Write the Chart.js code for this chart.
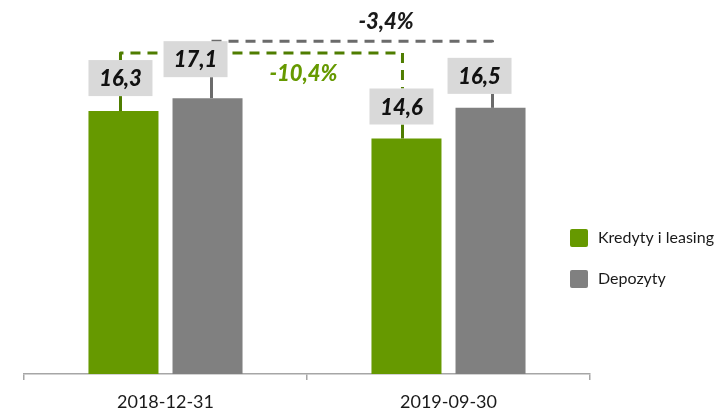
<!DOCTYPE html>
<html>
<head>
<meta charset="utf-8">
<script src="https://cdn.jsdelivr.net/npm/chart.js@4.4.1/dist/chart.umd.min.js"></script>
<style>
  html, body { margin: 0; padding: 0; background: #fff; }
  #wrap { width: 721px; height: 411px; position: relative; }
</style>
</head>
<body>
<div id="wrap"><canvas id="depositChart"></canvas></div>
<script>
// Data
const categories = ['2018-12-31', '2019-09-30'];
const seriesNames = ['Kredyty i leasing', 'Depozyty'];
const kredytyValues = [16.3, 14.6];
const depozytyValues = [17.1, 16.5];
const changeLabels = ['-10,4%', '-3,4%']; // change per series, first date -> second date

const seriesColors = ['#669900', '#808080'];
const connectorColors = ['#4f7d00', '#6b6b6b'];
const changeTextColors = ['#669900', '#1a1a1a'];
const FONT = 'Lato, "Open Sans", sans-serif';

// Label box offsets from bar centre / bar top: [series][category] = [dx, gapAboveBar, stemDx]
const boxOffsets = [
  [[-3, 15, -3], [-5, 14, -4]],
  [[-12, 21, 4], [-11, 14, 2]]
];

function fmt(v) {
  return v.toFixed(1).replace('.', ',');
}

const annotations = {
  id: 'annotations',
  afterDatasetsDraw(chart) {
    const ctx = chart.ctx;
    const boxes = [[], []];
    const BW = 64, BH = 36;

    // work out where every label box goes
    chart.data.datasets.forEach((ds, si) => {
      const meta = chart.getDatasetMeta(si);
      meta.data.forEach((bar, ci) => {
        const off = boxOffsets[si][ci];
        const bottom = bar.y - off[1];
        boxes[si].push({
          cx: bar.x + off[0],
          top: bottom - BH,
          bottom: bottom,
          stemX: bar.x + off[2],
          barTop: bar.y,
          value: ds.data[ci]
        });
      });
    });

    // dashed connectors between the two dates (drawn under the boxes)
    const lineYs = [
      Math.min(boxes[0][0].top, boxes[0][1].top) - 7,
      boxes[1][0].top
    ];
    const endYs = [boxes[0][1].top, boxes[1][1].top - 12];
    const labelShift = [[42, 21], [34, -19]];

    [0, 1].forEach(si => {
      const a = boxes[si][0], b = boxes[si][1];
      const y = lineYs[si];
      ctx.save();
      ctx.strokeStyle = connectorColors[si];
      ctx.lineWidth = 3;
      ctx.setLineDash([10, 7]);
      ctx.lineJoin = 'round';
      ctx.beginPath();
      ctx.moveTo(a.stemX, a.top);
      ctx.lineTo(a.stemX, y);
      ctx.lineTo(b.stemX, y);
      ctx.lineTo(b.stemX, endYs[si]);
      ctx.stroke();
      ctx.restore();

      ctx.save();
      ctx.fillStyle = changeTextColors[si];
      ctx.font = 'italic 900 22px ' + FONT;
      ctx.textAlign = 'center';
      ctx.textBaseline = 'middle';
      ctx.fillText(changeLabels[si], (a.stemX + b.stemX) / 2 + labelShift[si][0], y + labelShift[si][1]);
      ctx.restore();
    });

    // stems, boxes and values
    boxes.forEach((list, si) => {
      list.forEach(bx => {
        ctx.save();
        ctx.strokeStyle = connectorColors[si];
        ctx.lineWidth = 3;
        ctx.beginPath();
        ctx.moveTo(bx.stemX, bx.barTop);
        ctx.lineTo(bx.stemX, bx.bottom);
        ctx.stroke();

        ctx.fillStyle = '#d9d9d9';
        ctx.fillRect(bx.cx - BW / 2, bx.top, BW, BH);
        ctx.fillStyle = '#111';
        ctx.font = 'italic 900 22px ' + FONT;
        ctx.textAlign = 'center';
        ctx.textBaseline = 'middle';
        ctx.fillText(fmt(bx.value), bx.cx, bx.top + BH / 2 + 1);
        ctx.restore();
      });
    });

    // legend on the right
    const lx = chart.chartArea.right + 30;
    const lys = [238, 279];
    seriesNames.forEach((name, si) => {
      ctx.save();
      ctx.fillStyle = seriesColors[si];
      ctx.beginPath();
      ctx.roundRect(lx - 50, lys[si] - 9, 18, 18, 2);
      ctx.fill();
      ctx.fillStyle = '#1a1a1a';
      ctx.font = '16px ' + FONT;
      ctx.textAlign = 'left';
      ctx.textBaseline = 'middle';
      ctx.fillText(name, lx - 22, lys[si]);
      ctx.restore();
    });
  }
};

const ctx = document.getElementById('depositChart').getContext('2d');
const depositChart = new Chart(ctx, {
  type: 'bar',
  data: {
    labels: categories,
    datasets: [
      { label: seriesNames[0], data: kredytyValues, backgroundColor: seriesColors[0] },
      { label: seriesNames[1], data: depozytyValues, backgroundColor: seriesColors[1] }
    ]
  },
  options: {
    responsive: true,
    maintainAspectRatio: false,
    animation: false,
    layout: { padding: { left: 24, right: 131, top: 3, bottom: 0 } },
    datasets: {
      bar: { categoryPercentage: 0.594, barPercentage: 0.833 }
    },
    plugins: {
      legend: { display: false },
      tooltip: { enabled: false }
    },
    scales: {
      x: {
        offset: true,
        grid: {
          offset: true,
          drawOnChartArea: false,
          color: '#a6a6a6',
          lineWidth: 1.5,
          tickLength: 6
        },
        border: { color: '#a6a6a6', width: 1.5 },
        ticks: {
          color: '#1a1a1a',
          font: { family: FONT, size: 18 },
          padding: 11
        },
        afterFit(scale) { scale.height = 37; }
      },
      y: {
        display: false,
        min: 0,
        max: 23
      }
    }
  },
  plugins: [annotations]
});
</script>
</body>
</html>
